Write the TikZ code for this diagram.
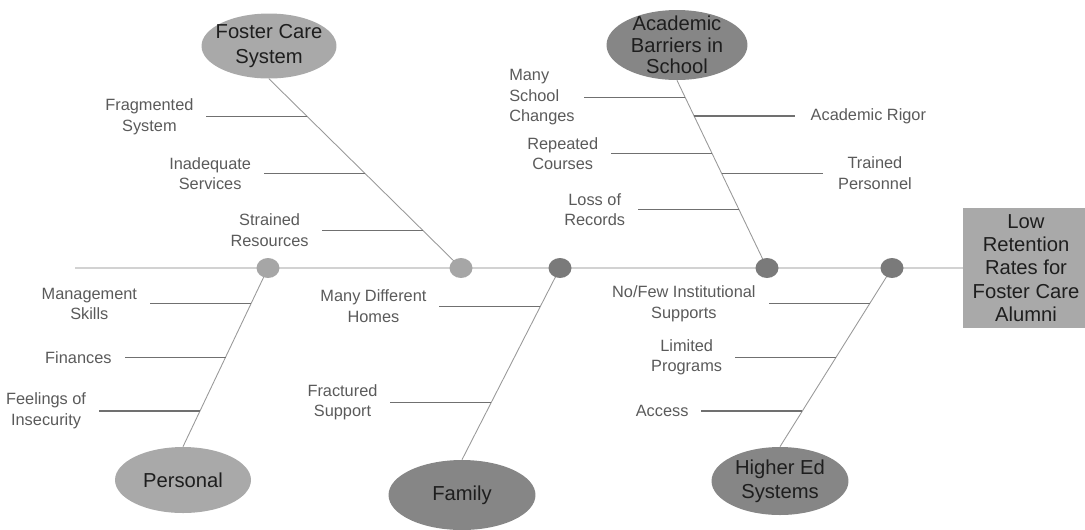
\documentclass[tikz,border=0pt]{standalone}
\usepackage{fontspec}
\setmainfont{Liberation Sans}
\usetikzlibrary{shapes.geometric,positioning}
\definecolor{lite}{HTML}{A9A9A9}
\definecolor{dark}{HTML}{868686}
\definecolor{litedot}{HTML}{A6A6A6}
\definecolor{darkdot}{HTML}{7A7A7A}
\definecolor{spinec}{HTML}{D2D2D2}
\definecolor{bonec}{HTML}{999999}
\definecolor{ribc}{HTML}{707070}
\definecolor{labc}{HTML}{5A5A5A}
\definecolor{bubc}{HTML}{1E1E1E}
\begin{document}
\begin{tikzpicture}[x=0.02cm,y=-0.02cm,
  bubble/.style={ellipse,inner sep=0pt},
  btext/.style={align=center,text=bubc,font=\fontsize{11.5}{13.8}\selectfont},
  dot/.style={ellipse,minimum width=0.46cm,minimum height=0.4cm,inner sep=0pt},
  spine/.style={draw=spinec,line width=0.6pt},
  bone/.style={draw=bonec,line width=0.5pt},
  rib/.style={draw=ribc,line width=0.75pt},
  cause/.style={align=center,text=labc,inner sep=0pt,font=\fontsize{9.3}{11.6}\selectfont}]

\useasboundingbox (0,0) rectangle (1085,529);

\node[bubble,fill=lite,minimum width=2.7cm,minimum height=1.3cm] (fcs) at (269,46) {};
\node[btext] at (fcs) {Foster Care\\System};
\node[bubble,fill=dark,minimum width=2.82cm,minimum height=1.4cm] (abs) at (677,45) {};
\node[btext,font=\fontsize{11.5}{12.2}\selectfont] at (abs) {Academic\\Barriers in\\School};
\node[bubble,fill=lite,minimum width=2.72cm,minimum height=1.32cm] (per) at (183,480) {};
\node[btext] at (per) {Personal};
\node[bubble,fill=dark,minimum width=2.94cm,minimum height=1.4cm] (fam) at (462,495) {};
\node[btext] at (fam) {Family};
\node[bubble,fill=dark,minimum width=2.74cm,minimum height=1.36cm] (hes) at (780,481) {};
\node[btext] at (hes) {Higher Ed\\Systems};

\node[btext,fill=lite,minimum width=2.52cm,minimum height=2.4cm,font=\fontsize{11.5}{13.3}\selectfont] (eff) at (1026,268) {Low\\Retention\\Rates for\\Foster Care\\Alumni};

\coordinate (tail) at (75,268);
\coordinate (d1) at (268,268);
\coordinate (d2) at (461,268);
\coordinate (d3) at (560,268);
\coordinate (d4) at (767,268);
\coordinate (d5) at (892,268);

\draw[spine] (tail) -- (eff.west);

\path[bone] (fcs.south) -- (d2) coordinate[pos=.2] (f1) coordinate[pos=.5] (f2) coordinate[pos=.8] (f3);
\path[bone] (abs.south) -- (d4) coordinate[pos=.09] (a1) coordinate[pos=.19] (a2) coordinate[pos=.39] (a3)
  coordinate[pos=.495] (a4) coordinate[pos=.69] (a5);
\path[bone] (d1) -- (per.north) coordinate[pos=.2] (p1) coordinate[pos=.5] (p2) coordinate[pos=.8] (p3);
\path[bone] (d3) -- (fam.north) coordinate[pos=.2] (m1) coordinate[pos=.7] (m2);
\path[bone] (d5) -- (hes.north) coordinate[pos=.2] (h1) coordinate[pos=.5] (h2) coordinate[pos=.8] (h3);

\draw[rib] (f1) -- ++(-101,0) node[cause,left=7pt] {Fragmented\\System};
\draw[rib] (f2) -- ++(-101,0) node[cause,left=7pt] {Inadequate\\Services};
\draw[rib] (f3) -- ++(-101,0) node[cause,left=7pt] {Strained\\Resources};

\draw[rib] (a1) -- ++(-101,0) node[cause,left=5pt,align=left] {Many\\School\\Changes};
\draw[rib] (a2) -- ++(101,0) node[cause,right=8.5pt] {Academic Rigor};
\draw[rib] (a3) -- ++(-101,0) node[cause,left=7pt] {Repeated\\Courses};
\draw[rib] (a4) -- ++(101,0) node[cause,right=8.5pt] {Trained\\Personnel};
\draw[rib] (a5) -- ++(-101,0) node[cause,left=7pt] {Loss of\\Records};

\draw[rib] (p1) -- ++(-101,0) node[cause,left=7pt] {Management\\Skills};
\draw[rib] (p2) -- ++(-101,0) node[cause,left=7pt] {Finances};
\draw[rib] (p3) -- ++(-101,0) node[cause,left=7pt] {Feelings of\\Insecurity};

\draw[rib] (m1) -- ++(-101,0) node[cause,left=7pt] {Many Different\\Homes};
\draw[rib] (m2) -- ++(-101,0) node[cause,left=7pt] {Fractured\\Support};

\draw[rib] (h1) -- ++(-101,0) node[cause,left=7pt] {No/Few Institutional\\Supports};
\draw[rib] (h2) -- ++(-101,0) node[cause,left=7pt] {Limited\\Programs};
\draw[rib] (h3) -- ++(-101,0) node[cause,left=7pt] {Access};

\foreach \p/\c in {d1/litedot,d2/litedot,d3/darkdot,d4/darkdot,d5/darkdot}
  \node[dot,fill=\c] (\p dot) at (\p) {};
\end{tikzpicture}
\end{document}
